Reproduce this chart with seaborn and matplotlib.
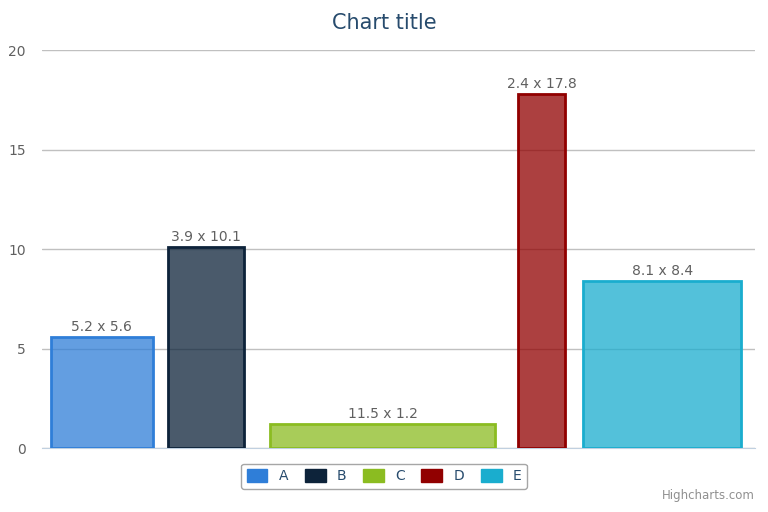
import numpy as np
import matplotlib
matplotlib.use("Agg")
import matplotlib.pyplot as plt
import seaborn as sns

categories = ["A", "B", "C", "D", "E"]
widths = [5.2, 3.9, 11.5, 2.4, 8.1]
values = [5.6, 10.1, 1.2, 17.8, 8.4]
colors = ["#2f7ed8", "#0d233a", "#8bbc21", "#910000", "#1aadce"]

sns.set_style("white")
plt.rcParams['font.family'] = ['DejaVu Sans']

fig = plt.figure(figsize=(7.68, 5.12), dpi=100)
ax = fig.add_axes([0.055, 0.125, 0.928, 0.777])

starts = np.concatenate([[0], np.cumsum(widths)[:-1]])
centers = starts + np.array(widths) / 2
for i, cat in enumerate(categories):
    ax.bar(centers[i], values[i], width=widths[i] * 0.855, color=colors[i],
           alpha=0.75, edgecolor="none", label=cat, zorder=2)
    ax.bar(centers[i], values[i], width=widths[i] * 0.855, fill=False,
           edgecolor=colors[i], linewidth=2, zorder=3)
    ax.text(centers[i], values[i] + 0.15, f"{widths[i]} x {values[i]}",
            ha="center", va="bottom", fontsize=10, color="#606060")

ax.set_xlim(0, sum(widths))
ax.set_ylim(0, 20)
ax.set_yticks([0, 5, 10, 15, 20])
ax.set_xticks([])
ax.yaxis.grid(True, color="#c0c0c0", linewidth=1)
ax.tick_params(axis="y", length=0, labelsize=10, labelcolor="#606060", pad=12)
for s in ["top", "right", "left"]:
    ax.spines[s].set_visible(False)
ax.spines["bottom"].set_color("#c0d0e0")
ax.set_axisbelow(True)

fig.text(0.5, 0.955, "Chart title", ha="center", va="center", fontsize=15, color="#274b6d")
handles = [plt.Rectangle((0, 0), 1, 1, color=c) for c in colors]
leg = fig.legend(handles, categories, loc="center", bbox_to_anchor=(0.5, 0.07), ncol=5,
                 frameon=True, fontsize=10, handlelength=1.5, handleheight=1.0,
                 columnspacing=1.2, fancybox=True, edgecolor="#909090")
for t in leg.get_texts():
    t.set_color("#274b6d")
fig.text(0.983, 0.02, "Highcharts.com", ha="right", va="bottom", fontsize=8.5, color="#909090")

fig.savefig("out.png", dpi=100)
